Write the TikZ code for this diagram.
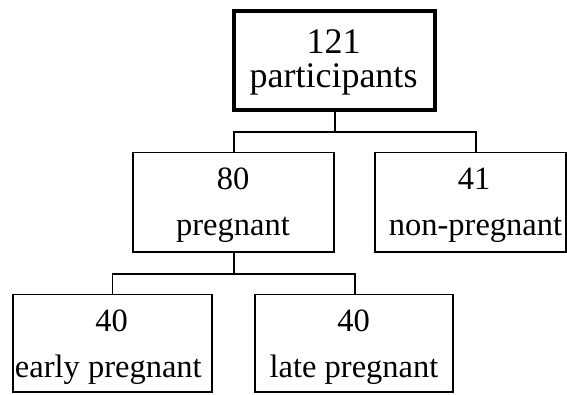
\documentclass[tikz,border=0pt]{standalone}
\usepackage{fontspec}
\setmainfont{Liberation Serif}
\begin{document}
\begin{tikzpicture}[x=1pt,y=-1pt,
  box/.style={draw, line width=1.8pt, inner sep=0pt},
  topbox/.style={draw, line width=4pt, inner sep=0pt},
  conn/.style={line width=1.8pt},
  bigtxt/.style={anchor=base, inner sep=0pt, font=\fontsize{36}{40}\selectfont},
  txt/.style={anchor=base, inner sep=0pt, font=\fontsize{32.5}{38}\selectfont}]
\useasboundingbox (0,0) rectangle (567,394);
% boxes
\node[topbox, minimum width=200.8pt, minimum height=99pt] (top) at (334.6,60.5) {};
\node[box, minimum width=200.7pt, minimum height=99.8pt] (ml) at (233.7,202.4) {};
\node[box, minimum width=190.7pt, minimum height=99.8pt] (mr) at (470.4,202.4) {};
\node[box, minimum width=199.3pt, minimum height=97.5pt] (bl) at (112.4,343.3) {};
\node[box, minimum width=197.7pt, minimum height=97.5pt] (br) at (353.9,343.3) {};
% texts
\node[bigtxt] (t1a) at (333.5,53.3) {121};
\node[bigtxt] (t1b) at (333.5,87.3) {participants};
\node[txt] (t2a) at (233,189.3) {80};
\node[txt] (t2b) at (233,235.5) {pregnant};
\node[txt] (t3a) at (474,189.3) {41};
\node[txt] (t3b) at (475.5,235.5) {non-pregnant};
\node[txt] (t4a) at (111.7,331.7) {40};
\node[txt] (t4b) at (108.3,377.3) {early pregnant};
\node[txt] (t5a) at (353.5,331.7) {40};
\node[txt] (t5b) at (354,377.3) {late pregnant};
% connectors
\coordinate (j1) at (334.6,132.3);
\coordinate (j2) at (233.7,274.3);
\draw[conn] (top.south) -- (j1);
\draw[conn] (ml.north) |- (j1) -| ([xshift=5.6pt]mr.north);
\draw[conn] (ml.south) -- (j2);
\draw[conn] (bl.north) |- (j2) -| ([xshift=1pt]br.north);
\end{tikzpicture}
\end{document}
